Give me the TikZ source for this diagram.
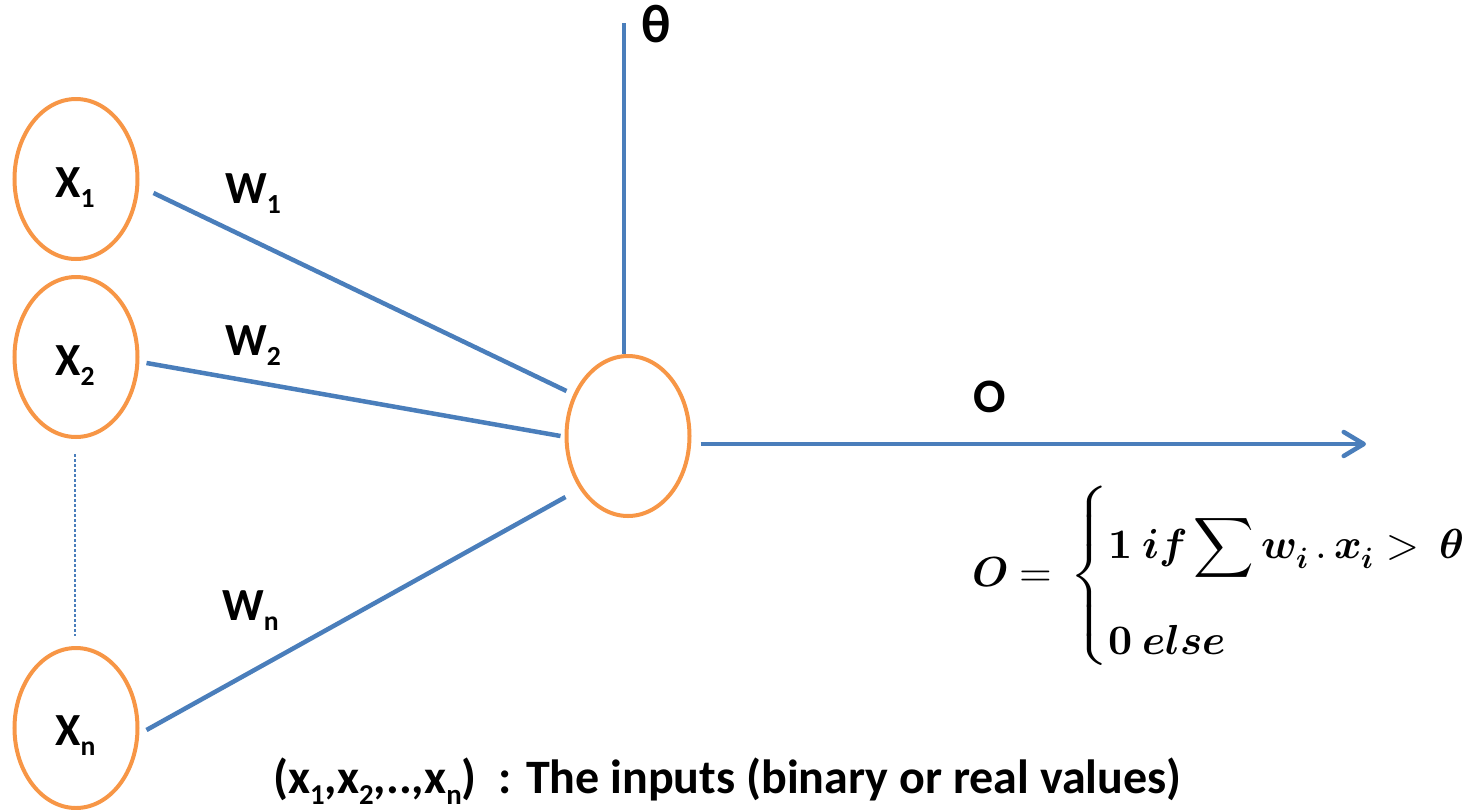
\documentclass[tikz,border=0pt]{standalone}
\usepackage{amsmath}
\usepackage{fontspec}
\usepackage{unicode-math}
\setmainfont{Carlito}
\setmathfont{latinmodern-math.otf}
\usetikzlibrary{shapes.geometric,arrows.meta,calc}
\definecolor{orng}{HTML}{F79646}
\definecolor{blu}{HTML}{4A7EBB}
\newcommand\lsub[1]{\raisebox{-0.23em}{\scalebox{0.6}{#1}}}
\newcommand\outformula{\fontsize{42}{46}\selectfont
  $\symbfit{O} \mathrel{\symbf{=}}\, \left\{\begin{array}{@{}l@{}} \rule{0pt}{75pt}\symbf{1}\ \symbfit{if} \displaystyle\sum\nolimits \symbfit{w}_{\symbfit{i}}\,.\,\symbfit{x}_{\symbfit{i}} >\ \symbfit{\theta} \\[50pt] \symbf{0}\ \symbfit{else} \end{array}\right.$}
\tikzset{
  neuron/.style={ellipse, draw=orng, line width=4pt, minimum width=123pt, minimum height=160pt, inner sep=0pt},
  wire/.style={draw=blu, line width=4.5pt},
  dots/.style={draw=blu, line width=1.3pt, dash pattern=on 3pt off 2pt},
  lbl/.style={anchor=base west, inner sep=0pt, font=\fontsize{46}{50}\selectfont\bfseries},
}
\begin{document}
\begin{tikzpicture}[x=1pt, y=-1pt]
\useasboundingbox (0,0) rectangle (1465,809);
% nodes
\node[neuron] (x1) at (76,179) {};
\node[neuron] (x2) at (76,357) {};
\node[neuron] (xn) at (76,728) {};
\node[neuron] (c)  at (628,436) {};
% labels
\node[lbl] (x1t) at (55,197) {X\lsub{1}};
\node[lbl] (x2t) at (55,375) {X\lsub{2}};
\node[lbl] (xnt) at (55,745) {X\lsub{n}};
\node[lbl] (w1) at (225,203) {W\lsub{1}};
\node[lbl] (w2) at (225,355) {W\lsub{2}};
\node[lbl] (wn) at (222,620) {W\lsub{n}};
\node[lbl, font=\fontsize{48}{50}\selectfont\bfseries] (o) at (973,412) {O};
\node[lbl, font=\fontsize{54}{56}\selectfont\bfseries] (th) at (641,42) {θ};
% coordinates
\coordinate (ttop) at (624,23);
\coordinate (oend) at (1366,444);
% connectors
\draw[wire] ([shift={(14,14)}]x1.east) -- ([shift={(2,-45)}]c.west);
\draw[wire] ([shift={(7,6)}]x2.east) -- ([shift={(-4,0)}]c.west);
\draw[wire] ([shift={(7,2)}]xn.east) -- ([shift={(1,61)}]c.west);
\draw[wire] ([xshift=-4pt]c.north) -- (ttop);
\draw[wire, -{Straight Barb[length=20pt,width=24pt,round]}] ([shift={(9,8)}]c.east) -- (oend);
\draw[dots] ([shift={(-1,15)}]x2.south) -- ([shift={(-1,-10)}]xn.north);
% formula
\node[anchor=west, inner sep=0pt] (fm) at (972,576) {\outformula};
% bottom text
\node[anchor=base west, inner sep=0pt, font=\fontsize{48}{50}\selectfont\bfseries] (inp) at (273,793)
  {(x\lsub{1},x\lsub{2},..,x\lsub{n})\ \ : The inputs (binary or real values)};
\end{tikzpicture}
\end{document}
